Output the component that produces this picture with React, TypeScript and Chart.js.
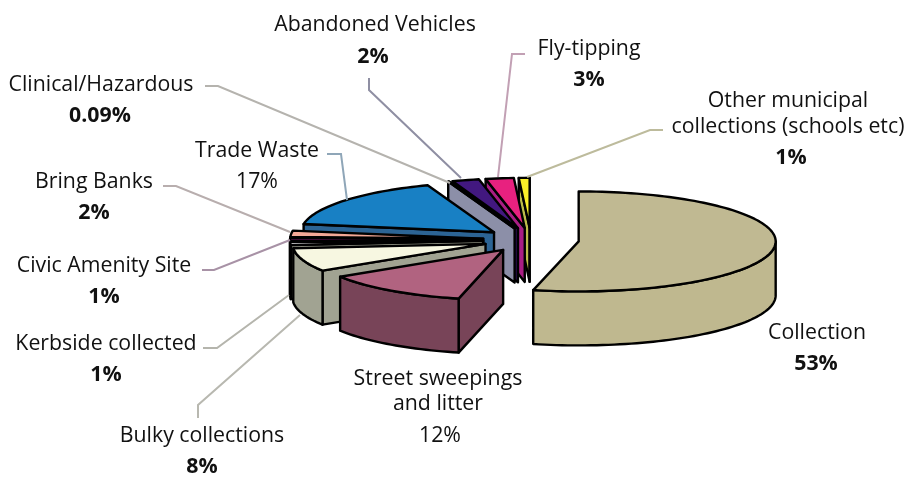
import React, { useEffect, useRef } from "react";
import { Chart, registerables } from "chart.js";

Chart.register(...registerables);

const categories = [
  "Collection",
  "Street sweepings and litter",
  "Bulky collections",
  "Kerbside collected",
  "Civic Amenity Site",
  "Bring Banks",
  "Trade Waste",
  "Clinical/Hazardous",
  "Abandoned Vehicles",
  "Fly-tipping",
  "Other municipal collections (schools etc)",
];
const shares = [53.7, 12.3, 7.6, 1, 1, 2, 16.8, 0.09, 2.25, 2.35, 0.9];
const percentLabels = ["53%", "12%", "8%", "1%", "1%", "2%", "17%", "0.09%", "2%", "3%", "1%"];
const topColors = ["#C0B992", "#B16380", "#F7F7E1", "#FFFFFF", "#7A1A68", "#F4A896", "#1880C4", "#8C8FA8", "#42187F", "#E8217F", "#F9EE28"];
const wallColors = ["#BFB88F", "#784458", "#A1A392", "#A1A392", "#5C1450", "#7A1A68", "#2C6494", "#8C8FA8", "#2A1050", "#A91E84", "#BDBD4A"];
const leaderColors = ["", "", "#B8B8B0", "#B5B5AD", "#A892A6", "#B8AEAE", "#8FA6B8", "#B5B3AE", "#8F8FA3", "#C2A0B4", "#BDBB9C"];

type Txt = [string, number, number, boolean];
const labelLayout: Txt[][] = [
  [["Collection", 817, 339, false], ["53%", 816, 370, true]],
  [["Street sweepings", 438, 385, false], ["and litter", 438, 410, false], ["12%", 440, 442, false]],
  [["Bulky collections", 202, 442, false], ["8%", 202, 473, true]],
  [["Kerbside collected", 106, 350, false], ["1%", 106, 381, true]],
  [["Civic Amenity Site", 104, 272, false], ["1%", 104, 303, true]],
  [["Bring Banks", 94, 188, false], ["2%", 94, 219, true]],
  [["Trade Waste", 257, 157, false], ["17%", 257, 188, false]],
  [["Clinical/Hazardous", 101, 91, false], ["0.09%", 100, 122, true]],
  [["Abandoned Vehicles", 375, 31, false], ["2%", 373, 63, true]],
  [["Fly-tipping", 589, 55, false], ["3%", 589, 86, true]],
  [["Other municipal", 788, 107, false], ["collections (schools etc)", 788, 133, false], ["1%", 791, 164, true]],
];
const leaderPaths: number[][][] = [
  [],
  [],
  [[198, 418], [198, 405], [300, 315]],
  [[203, 348], [217, 348], [289, 295]],
  [[202, 270], [214, 270], [290, 240]],
  [[163, 186], [176, 186], [290, 232]],
  [[327, 154], [341, 154], [347, 200]],
  [[205, 86], [218, 86], [450, 183]],
  [[369, 78], [369, 90], [461, 178]],
  [[525, 54], [512, 54], [498, 177]],
  [[663, 130], [650, 130], [527, 177]],
];

const EXPLODE = 48;
const RX_RIGHT = 197;
const RX_LEFT = 193;
const RY = 50;
const DEPTH = 54;
const FONT = '"Open Sans", sans-serif';

const pie3d = {
  id: "pie3d",
  beforeDatasetsDraw(chart: any) {
    const ctx: CanvasRenderingContext2D = chart.ctx;
    const meta = chart.getDatasetMeta(0);
    const arcs = meta.data.map((el: any, i: number) => {
      const p = el.getProps(["x", "y", "startAngle", "endAngle", "outerRadius"], true);
      const mid = (p.startAngle + p.endAngle) / 2;
      const bearing = mid + Math.PI / 2;
      return { el, i, p, mid, rank: Math.abs(bearing - Math.PI) };
    });
    arcs.sort((a: any, b: any) => b.rank - a.rank);

    ctx.save();
    ctx.lineJoin = "round";
    ctx.lineWidth = 2.4;
    ctx.strokeStyle = "#000";
    for (const a of arcs) {
      const { p, mid, i, el } = a;
      const rx = Math.cos(mid) > 0 ? RX_RIGHT : RX_LEFT;
      const tx = p.x + Math.cos(mid) * EXPLODE;
      const ty = p.y + Math.sin(mid) * EXPLODE * (RY / RX_RIGHT);
      const pt = (ang: number, dz = 0): [number, number] => [
        tx + Math.cos(ang) * rx,
        ty + Math.sin(ang) * RY + dz,
      ];
      const poly = (pts: [number, number][], fill: string) => {
        ctx.beginPath();
        pts.forEach((q, k) => (k ? ctx.lineTo(q[0], q[1]) : ctx.moveTo(q[0], q[1])));
        ctx.closePath();
        ctx.fillStyle = fill;
        ctx.fill();
        ctx.stroke();
      };
      const wall = wallColors[i];
      // radial cut faces that look towards the viewer
      if (Math.cos(p.startAngle) < 0) {
        const o = pt(p.startAngle);
        poly([[tx, ty], o, [o[0], o[1] + DEPTH], [tx, ty + DEPTH]], wall);
      }
      if (Math.cos(p.endAngle) > 0) {
        const o = pt(p.endAngle);
        poly([[tx, ty], o, [o[0], o[1] + DEPTH], [tx, ty + DEPTH]], wall);
      }
      // curved outer wall
      const norm = (x: number) => {
        let v = x;
        while (v < -Math.PI / 2) v += Math.PI * 2;
        return v;
      };
      const s = Math.max(norm(p.startAngle), 0);
      const e = Math.min(norm(p.startAngle) + (p.endAngle - p.startAngle), Math.PI);
      if (e > s) {
        const up: [number, number][] = [];
        const down: [number, number][] = [];
        const steps = Math.max(2, Math.ceil((e - s) / 0.03));
        for (let k = 0; k <= steps; k++) {
          const ang = s + ((e - s) * k) / steps;
          up.push(pt(ang));
          down.unshift(pt(ang, DEPTH));
        }
        poly([...up, ...down], wall);
      }
      // top face: the library's own arc element, squashed onto the ellipse
      ctx.save();
      ctx.translate(tx, ty);
      ctx.scale(rx / p.outerRadius, RY / p.outerRadius);
      ctx.translate(-p.x, -p.y);
      el.draw(ctx);
      ctx.restore();
      // outline of the top face
      ctx.beginPath();
      ctx.moveTo(tx, ty);
      const span = p.endAngle - p.startAngle;
      const n = Math.max(1, Math.ceil(span / 0.03));
      for (let k = 0; k <= n; k++) {
        const q = pt(p.startAngle + (span * k) / n);
        ctx.lineTo(q[0], q[1]);
      }
      ctx.closePath();
      ctx.stroke();
    }
    ctx.restore();
    return false;
  },
  afterDraw(chart: any) {
    const ctx: CanvasRenderingContext2D = chart.ctx;
    ctx.save();
    ctx.lineWidth = 2;
    ctx.lineJoin = "miter";
    leaderPaths.forEach((path, i) => {
      if (!path.length) return;
      ctx.strokeStyle = leaderColors[i];
      ctx.beginPath();
      path.forEach((q, k) => (k ? ctx.lineTo(q[0], q[1]) : ctx.moveTo(q[0], q[1])));
      ctx.stroke();
    });
    ctx.textAlign = "center";
    ctx.textBaseline = "alphabetic";
    ctx.fillStyle = "#111";
    labelLayout.forEach((lines) => {
      lines.forEach(([t, x, y, bold]) => {
        ctx.font = `${bold ? "bold " : ""}21.3px ${FONT}`;
        ctx.fillText(t, x, y);
      });
    });
    ctx.restore();
  },
};

export default function App() {
  const ref = useRef<HTMLCanvasElement>(null);
  useEffect(() => {
    const chart = new Chart(ref.current as HTMLCanvasElement, {
      type: "pie",
      data: {
        labels: categories.map((c, i) => `${c} ${percentLabels[i]}`),
        datasets: [{ data: shares, backgroundColor: topColors, borderWidth: 0 }],
      },
      options: {
        responsive: false,
        animation: false,
        layout: { padding: { left: 334, right: 179, top: 43, bottom: 40 } },
        plugins: { legend: { display: false }, tooltip: { enabled: false } },
      },
      plugins: [pie3d],
    } as any);
    return () => chart.destroy();
  }, []);
  return (
    <div style={{ position: "absolute", left: 0, top: 0, width: 907, height: 477, background: "#fff" }}>
      <canvas ref={ref} width={907} height={477} style={{ display: "block" }} />
    </div>
  );
}
